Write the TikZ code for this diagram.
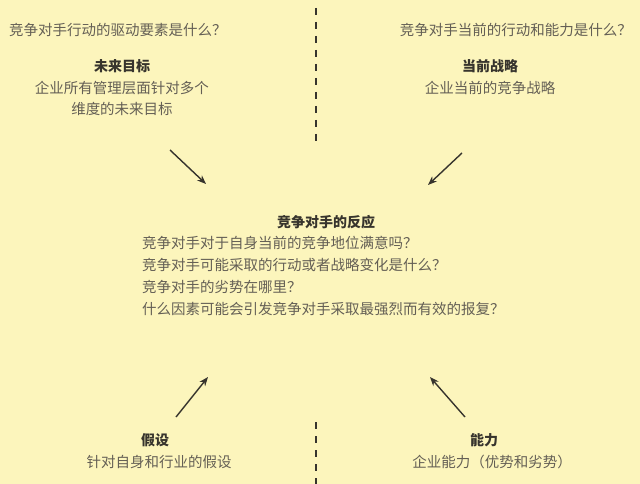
\documentclass[tikz,border=0pt]{standalone}
\usepackage{fontspec}
\setmainfont{Noto Sans CJK SC}
\usetikzlibrary{arrows.meta}
\definecolor{bgyellow}{RGB}{252,245,188}
\definecolor{txtgray}{RGB}{100,95,85}
\definecolor{headgray}{RGB}{55,52,45}
\tikzset{
  txt/.style={text=txtgray, font=\fontsize{14.5}{17}\selectfont, inner sep=0pt},
  head/.style={text=headgray, font=\fontsize{14}{17}\selectfont\bfseries, inner sep=0pt},
  pointer/.style={draw=headgray, line width=1.4pt, -{Stealth[length=9pt,width=7pt]}},
  divider/.style={draw=headgray, line width=1.6pt, dash pattern=on 7pt off 7pt}
}
\begin{document}
\begin{tikzpicture}[x=1pt, y=-1pt]
\fill[bgyellow] (0,0) rectangle (640,484);
\useasboundingbox (0,0) rectangle (640,484);
% dividers
\coordinate (D_top_a) at (316,8);
\coordinate (D_top_b) at (316,146);
\draw[divider] (D_top_a) -- (D_top_b);
\coordinate (D_bot_a) at (316,422);
\coordinate (D_bot_b) at (316,484);
\draw[divider] (D_bot_a) -- (D_bot_b);
% top left
\node[txt, anchor=west] (Q_1) at (9,30) {竞争对手行动的驱动要素是什么？};
\node[head] (H_1) at (122,66) {未来目标};
\node[txt, align=center, text width=200pt] (T_1) at (122,98) {企业所有管理层面针对多个\\[4pt]维度的未来目标};
% top right
\node[txt, anchor=east] (Q_2) at (632,30) {竞争对手当前的行动和能力是什么？};
\node[head] (H_2) at (490,66) {当前战略};
\node[txt] (T_2) at (490,88) {企业当前的竞争战略};
% centre
\node[head] (H_0) at (326,222) {竞争对手的反应};
\node[txt, anchor=west, align=left] (T_0) at (142,276) {竞争对手对于自身当前的竞争地位满意吗？\\[4.7pt]竞争对手可能采取的行动或者战略变化是什么？\\[4.7pt]竞争对手的劣势在哪里？\\[4.7pt]什么因素可能会引发竞争对手采取最强烈而有效的报复？};
% bottom left
\node[head] (H_3) at (155,440) {假设};
\node[txt] (T_3) at (159,462) {针对自身和行业的假设};
% bottom right
\node[head] (H_4) at (484,440) {能力};
\node[txt] (T_4) at (492,462) {企业能力（优势和劣势）};
% arrows
\coordinate (A_1a) at (170,150);
\coordinate (A_1b) at (206,184);
\draw[pointer] (A_1a) -- (A_1b);
\coordinate (A_2a) at (462,153);
\coordinate (A_2b) at (428,185);
\draw[pointer] (A_2a) -- (A_2b);
\coordinate (A_3a) at (176,417);
\coordinate (A_3b) at (208,377);
\draw[pointer] (A_3a) -- (A_3b);
\coordinate (A_4a) at (465,417);
\coordinate (A_4b) at (430,377);
\draw[pointer] (A_4a) -- (A_4b);
\end{tikzpicture}
\end{document}
